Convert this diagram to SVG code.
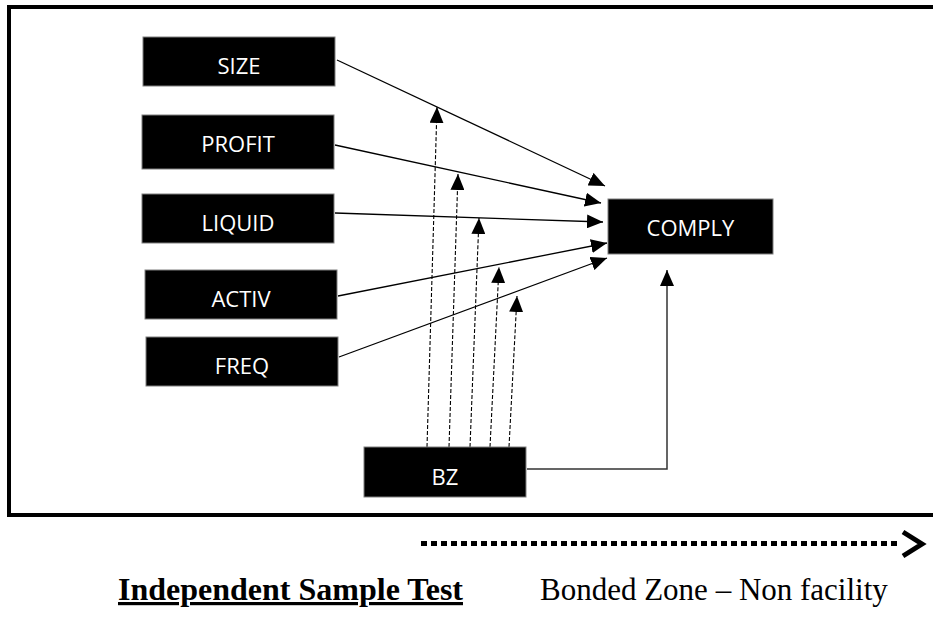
<svg xmlns="http://www.w3.org/2000/svg" width="933" height="619" viewBox="0 0 933 619">
  <style>
    .box { fill: #000; stroke: #7f7f7f; stroke-width: 1; }
    .lbl { fill: #fff; font-family: "Open Sans", "Liberation Sans", sans-serif; font-size: 22px; text-anchor: middle; }
    .solid { fill: none; stroke: #000; stroke-width: 1.3; marker-end: url(#ah); }
    .dash { fill: none; stroke: #000; stroke-width: 1.1; stroke-dasharray: 4 2; marker-end: url(#ah); }
    .cap { font-family: "Liberation Serif", "Times New Roman", serif; fill: #000; }
  </style>
  <defs>
    <marker id="ah" markerUnits="userSpaceOnUse" markerWidth="16" markerHeight="14" refX="16" refY="7" orient="auto">
      <path d="M0,0 L16,7 L0,14 z" fill="#000"/>
    </marker>
  </defs>
  <rect x="0" y="0" width="933" height="619" fill="#fff"/>
  <rect id="frame" x="9" y="7" width="940" height="508" fill="none" stroke="#000" stroke-width="4"/>

  <g id="connectors">
    <path class="solid" d="M337,60 L605,186"/>
    <path class="solid" d="M335,145 L601,203"/>
    <path class="solid" d="M335,213 L603,222"/>
    <path class="solid" d="M338,296 L607,243"/>
    <path class="solid" d="M339,357 L607,258"/>
    <path class="dash" d="M427,447 L437,107"/>
    <path class="dash" d="M449,447 L458,174"/>
    <path class="dash" d="M470,447 L479,218"/>
    <path class="dash" d="M490,447 L499,267"/>
    <path class="dash" d="M509,447 L517,296"/>
    <path d="M527,469 H667 V270" fill="none" stroke="#333" stroke-width="1.5" marker-end="url(#ah)"/>
  </g>

  <g id="size"><rect class="box" x="143" y="37" width="192" height="49"/><text class="lbl" x="239" y="74">SIZE</text></g>
  <g id="profit"><rect class="box" x="142" y="115" width="192" height="54"/><text class="lbl" x="238" y="152">PROFIT</text></g>
  <g id="liquid"><rect class="box" x="142" y="194" width="192" height="49"/><text class="lbl" x="238" y="231">LIQUID</text></g>
  <g id="activ"><rect class="box" x="145" y="270" width="192" height="49"/><text class="lbl" x="241" y="307">ACTIV</text></g>
  <g id="freq"><rect class="box" x="146" y="337" width="192" height="49"/><text class="lbl" x="242" y="374">FREQ</text></g>
  <g id="bz"><rect class="box" x="364" y="447" width="162" height="50"/><text class="lbl" x="445" y="485">BZ</text></g>
  <g id="comply"><rect class="box" x="608" y="199" width="165" height="55"/><text class="lbl" x="690.5" y="236">COMPLY</text></g>

  <g id="direction">
    <line x1="421" y1="543.5" x2="901" y2="543.5" stroke="#000" stroke-width="5" stroke-dasharray="6 4"/>
    <polyline points="903,532 922,544 903,556" fill="none" stroke="#000" stroke-width="5"/>
  </g>

  <text class="cap" x="118" y="600" font-size="32" font-weight="bold" text-decoration="underline">Independent Sample Test</text>
  <text class="cap" x="540" y="600" font-size="31">Bonded Zone – Non facility</text>
</svg>
